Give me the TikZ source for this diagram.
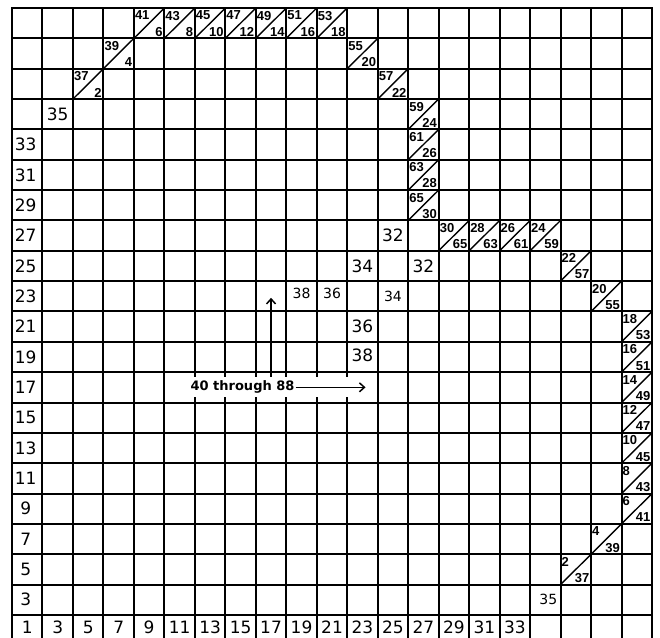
\documentclass[tikz,border=0pt]{standalone}
\usepackage{fontspec}
\setmainfont{DejaVu Sans}
\newfontfamily\libsans{Liberation Sans}
\usetikzlibrary{arrows.meta}
\newcommand\fsbig{\fontsize{17}{17}\selectfont}
\newcommand\fsmed{\fontsize{14}{14}\selectfont}
\newcommand\fssmall{\libsans\bfseries\fontsize{13}{13}\selectfont}
\newcommand\fsarrow{\bfseries\fontsize{13}{13}\selectfont}
\tikzset{
  gl/.style={line width=2pt, line cap=rect},
  diagline/.style={line width=1.4pt},
  bignum/.style={inner sep=0pt, font=\fsbig},
  mednum/.style={inner sep=0pt, font=\fsmed},
  smallnum/.style={inner sep=0pt, font=\fssmall},
  arr/.style={line width=1.5pt, -{Straight Barb[length=5pt,width=9pt,line width=1.5pt]}}
}
\newcommand\diagcell[4]{%
  \draw[diagline] (#1,#2+1) -- (#1+1,#2);
  \node[smallnum, anchor=north west] (t-#1-#2) at (#1+0.03,#2+0.09) {#3};
  \node[smallnum, anchor=south east] (b-#1-#2) at (#1+0.95,#2+0.94) {#4};
}
\begin{document}
\begin{tikzpicture}[x=30.48pt, y=-30.35pt]
\useasboundingbox (-0.3937,-0.2636) rectangle (21.2625,20.758);
\clip (-0.3937,-0.2636) rectangle (21.2625,20.758);
% grid: vertical lines (interrupted behind the label in row 12)
\foreach \i in {0,...,5,12,13,...,21} \draw[gl] (\i,0) -- (\i,21);
\foreach \i in {6,...,11} {
  \draw[gl] (\i,0) -- (\i,12.12);
  \draw[gl] (\i,12.86) -- (\i,21);
}
% grid: horizontal lines
\foreach \j in {0,...,21} \draw[gl] (0,\j) -- (21,\j);
% diagonal cells
\foreach \c/\r/\a/\b in {4/0/41/6,5/0/43/8,6/0/45/10,7/0/47/12,8/0/49/14,9/0/51/16,10/0/53/18,
  3/1/39/4,2/2/37/2,
  11/1/55/20,12/2/57/22,13/3/59/24,13/4/61/26,13/5/63/28,13/6/65/30,
  14/7/30/65,15/7/28/63,16/7/26/61,17/7/24/59,
  18/8/22/57,19/9/20/55,20/10/18/53,20/11/16/51,20/12/14/49,20/13/12/47,
  20/14/10/45,20/15/8/43,20/16/6/41,19/17/4/39,18/18/2/37}
  {\diagcell{\c}{\r}{\a}{\b}}
% left column labels
\foreach \r/\t in {4/33,5/31,6/29,7/27,8/25,9/23,10/21,11/19,12/17,13/15,14/13,15/11,16/9,17/7,18/5,19/3}
  \node[bignum] (L-\r) at (0.45,\r+0.5) {\t};
% bottom row labels
\foreach \c [evaluate=\c as \t using int(2*\c+1)] in {0,...,16}
  \node[bignum] (B-\c) at (\c+0.5,20.4) {\t};
% other labels
\node[bignum] (n35a) at (1.5,3.5) {35};
\node[bignum] (n32a) at (12.5,7.5) {32};
\node[bignum] (n34a) at (11.5,8.5) {34};
\node[bignum] (n32b) at (13.5,8.5) {32};
\node[mednum] (n38a) at (9.5,9.4) {38};
\node[mednum] (n36a) at (10.5,9.4) {36};
\node[mednum] (n34b) at (12.5,9.5) {34};
\node[bignum] (n36b) at (11.5,10.5) {36};
\node[bignum] (n38b) at (11.5,11.45) {38};
\node[mednum] (n35b) at (17.6,19.5) {35};
% label with arrows
\node[inner sep=1pt, font=\fsarrow, anchor=west] (thr) at (5.82,12.5) {40 through 88};
\coordinate (hend) at (11.6,12.5);
\draw[arr] (thr.east) -- (hend);
\coordinate (vstart) at (8.5,12.15);
\coordinate (vend) at (8.5,9.55);
\draw[arr] (vstart) -- (vend);
\end{tikzpicture}
\end{document}
